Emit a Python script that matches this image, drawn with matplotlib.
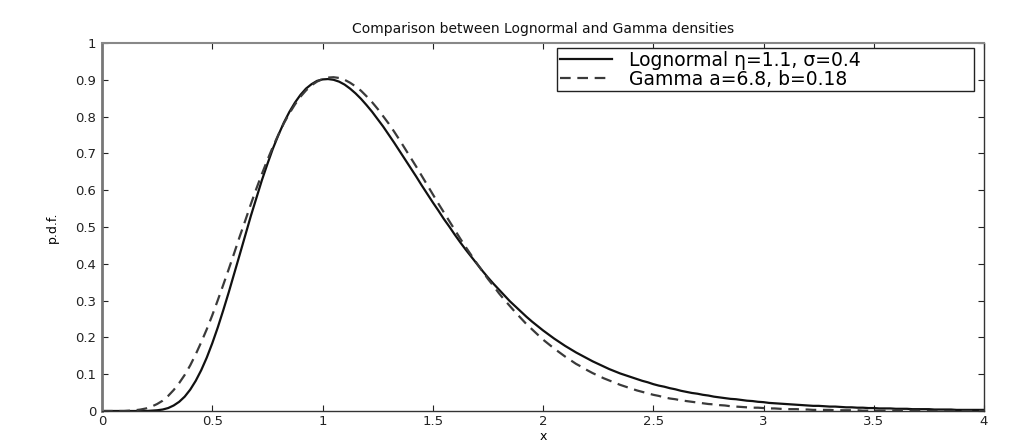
import numpy as np
import matplotlib
matplotlib.use("Agg")
import matplotlib.pyplot as plt

# densities, on a 0.05 grid plus the midpoints
x_grid = np.round(np.arange(0, 4.0001, 0.05), 3)
x_mid = np.round(np.arange(0.025, 4, 0.05), 3)

lognormal_grid = [
    0.000, 0.000, 0.000, 0.000, 0.000, 0.002, 0.008, 0.025, 0.058, 0.111,
    0.184, 0.274, 0.374, 0.478, 0.579, 0.671, 0.750, 0.813, 0.859, 0.888,
    0.901, 0.900, 0.887, 0.863, 0.831, 0.793, 0.751, 0.706, 0.660, 0.613,
    0.567, 0.522, 0.479, 0.438, 0.400, 0.363, 0.330, 0.298, 0.270, 0.243,
    0.219, 0.197, 0.177, 0.159, 0.143, 0.128, 0.114, 0.102, 0.092, 0.082,
    0.073, 0.066, 0.059, 0.052, 0.047, 0.042, 0.037, 0.033, 0.030, 0.027,
    0.024, 0.021, 0.019, 0.017, 0.015, 0.014, 0.012, 0.011, 0.010, 0.009,
    0.008, 0.007, 0.006, 0.006, 0.005, 0.005, 0.004, 0.004, 0.003, 0.003,
    0.003,
]
lognormal_mid = [
    0.000, 0.000, 0.000, 0.000, 0.001, 0.004, 0.015, 0.039, 0.082, 0.145,
    0.227, 0.323, 0.426, 0.530, 0.627, 0.713, 0.784, 0.838, 0.876, 0.897,
    0.902, 0.895, 0.876, 0.848, 0.813, 0.773, 0.729, 0.683, 0.637, 0.590,
    0.545, 0.501, 0.458, 0.419, 0.381, 0.346, 0.314, 0.284, 0.256, 0.231,
    0.208, 0.187, 0.168, 0.151, 0.135, 0.121, 0.108, 0.097, 0.087, 0.078,
    0.069, 0.062, 0.055, 0.049, 0.044, 0.039, 0.035, 0.032, 0.028, 0.025,
    0.022, 0.020, 0.018, 0.016, 0.014, 0.013, 0.012, 0.010, 0.009, 0.008,
    0.007, 0.007, 0.006, 0.005, 0.005, 0.004, 0.004, 0.003, 0.003, 0.003,
]
gamma_grid = [
    0.000, 0.000, 0.000, 0.002, 0.007, 0.019, 0.041, 0.076, 0.124, 0.187,
    0.260, 0.343, 0.430, 0.518, 0.604, 0.682, 0.751, 0.809, 0.854, 0.885,
    0.902, 0.907, 0.900, 0.882, 0.855, 0.821, 0.781, 0.736, 0.688, 0.639,
    0.589, 0.540, 0.492, 0.445, 0.401, 0.359, 0.320, 0.285, 0.252, 0.222,
    0.194, 0.170, 0.148, 0.128, 0.111, 0.096, 0.083, 0.071, 0.061, 0.052,
    0.044, 0.037, 0.032, 0.027, 0.023, 0.019, 0.016, 0.013, 0.011, 0.009,
    0.008, 0.007, 0.005, 0.005, 0.004, 0.003, 0.003, 0.002, 0.002, 0.001,
    0.001, 0.001, 0.001, 0.001, 0.001, 0.000, 0.000, 0.000, 0.000, 0.000,
    0.000,
]
gamma_mid = [
    0.000, 0.000, 0.001, 0.004, 0.012, 0.028, 0.057, 0.098, 0.154, 0.222,
    0.301, 0.386, 0.475, 0.562, 0.644, 0.718, 0.782, 0.833, 0.871, 0.895,
    0.906, 0.905, 0.892, 0.870, 0.839, 0.801, 0.759, 0.712, 0.664, 0.614,
    0.564, 0.516, 0.468, 0.423, 0.380, 0.340, 0.302, 0.268, 0.236, 0.208,
    0.182, 0.159, 0.138, 0.120, 0.103, 0.089, 0.077, 0.066, 0.056, 0.048,
    0.041, 0.034, 0.029, 0.025, 0.021, 0.018, 0.015, 0.012, 0.010, 0.009,
    0.007, 0.006, 0.005, 0.004, 0.003, 0.003, 0.002, 0.002, 0.002, 0.001,
    0.001, 0.001, 0.001, 0.001, 0.000, 0.000, 0.000, 0.000, 0.000, 0.000,
]
labels = ["Lognormal \u03b7=1.1, \u03c3=0.4", "Gamma a=6.8, b=0.18"]
xticks = [0, 0.5, 1, 1.5, 2, 2.5, 3, 3.5, 4]
yticks = [0, 0.1, 0.2, 0.3, 0.4, 0.5, 0.6, 0.7, 0.8, 0.9, 1]

x_all = np.concatenate([x_grid, x_mid])
order = np.argsort(x_all)
x = x_all[order]
lognormal_pdf = np.concatenate([lognormal_grid, lognormal_mid])[order]
gamma_pdf = np.concatenate([gamma_grid, gamma_mid])[order]

plt.rcParams["font.family"] = ["DejaVu Sans"]

fig = plt.figure(figsize=(10.19, 4.45), dpi=100)
ax = fig.add_axes([0.1001, 0.0764, 0.8656, 0.8270])

ax.plot(x, lognormal_pdf, color="#111111", linewidth=1.6, label=labels[0])
ax.plot(x, gamma_pdf, color="#3a3a3a", linewidth=1.6,
        linestyle=(0, (4.8, 3.0)), label=labels[1])

ax.set_xlim(0, 4)
ax.set_ylim(0, 1)
ax.set_xticks(xticks)
ax.set_xticklabels([f"{t:g}" for t in xticks])
ax.set_yticks(yticks)
ax.set_yticklabels([f"{t:g}" for t in yticks])
ax.tick_params(direction="in", length=4, width=0.8, top=True, right=True,
               labelsize=9.5, colors="#222222", pad=4)
ax.tick_params(axis="x", pad=3)

for side, sp in ax.spines.items():
    sp.set_color("#333333")
    sp.set_linewidth(1.0)
ax.spines["left"].set_color("#777777")
ax.spines["left"].set_linewidth(2.0)
ax.spines["top"].set_color("#888888")
ax.spines["top"].set_linewidth(1.5)

ax.set_title("Comparison between Lognormal and Gamma densities",
             fontsize=10, pad=7, color="#111111")
ax.set_xlabel("x", fontsize=9, labelpad=1)
ax.set_ylabel("p.d.f.", fontsize=9, labelpad=12)

leg = ax.legend(loc="upper left", bbox_to_anchor=(0.516, 0.5, 0.4727, 0.487),
                mode="expand", borderaxespad=0, fontsize=13.5, frameon=True,
                fancybox=False, handlelength=2.8, borderpad=0.15,
                labelspacing=0.0, handletextpad=0.9)
leg.get_frame().set_edgecolor("#222222")
leg.get_frame().set_linewidth(1.0)
leg.get_frame().set_alpha(1)

fig.savefig("out.png", dpi=100)
